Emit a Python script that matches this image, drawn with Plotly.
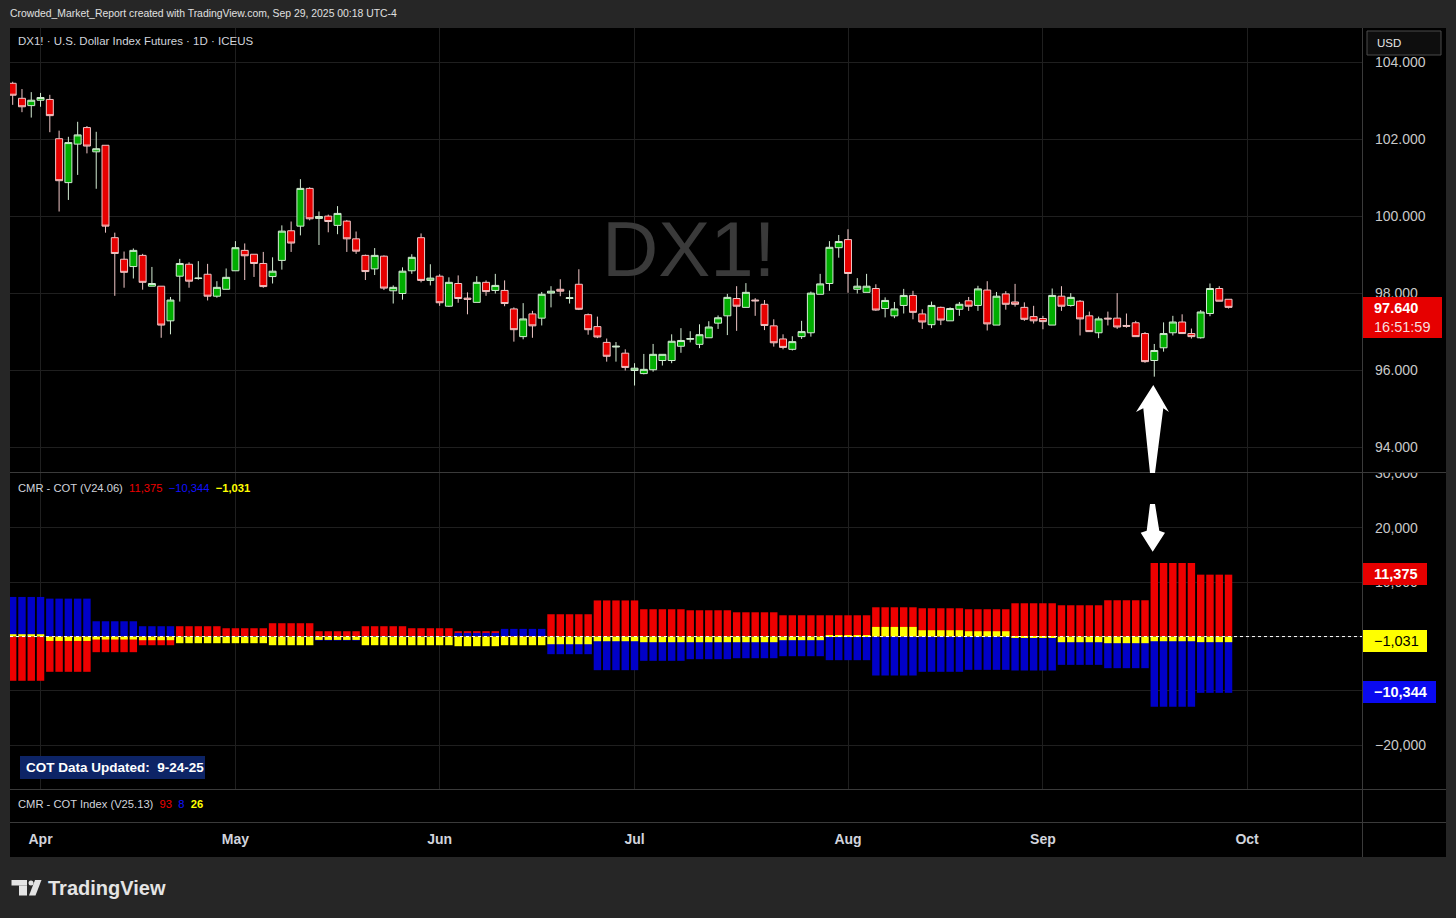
import bisect
import pandas as pd
import plotly.graph_objects as go

W, H = 1456, 918
FONT = "Liberation Sans, Arial, sans-serif"

# ---------------- data ----------------
dates = [d.strftime("%Y-%m-%d") for d in pd.bdate_range("2025-03-27", "2025-09-29")
         if d.strftime("%Y-%m-%d") != "2025-04-18"]

open_ = [103.46, 103.07, 102.88, 103.02, 103.04, 102.02, 100.88, 101.88, 102.31, 101.68,
         101.85, 99.45, 98.89, 98.70, 98.99, 98.19, 98.19, 97.29, 98.45, 98.76,
         98.39, 98.50, 97.93, 98.11, 98.59, 99.12, 99.02, 98.78, 98.44, 98.86,
         99.63, 99.75, 100.73, 99.95, 100.01, 99.77, 99.88, 99.42, 98.99, 98.64,
         98.97, 98.07, 98.00, 98.59, 99.45, 98.34, 98.45, 97.67, 98.26, 97.88,
         97.77, 98.29, 98.08, 98.08, 97.60, 96.88, 97.47, 97.36, 98.01, 98.11,
         97.87, 98.24, 97.45, 97.14, 96.73, 96.61, 96.45, 96.00, 95.92, 96.02,
         96.26, 96.26, 96.63, 96.81, 96.68, 96.85, 97.23, 97.42, 97.87, 97.64,
         97.83, 97.72, 97.16, 96.82, 96.55, 96.88, 96.98, 97.98, 98.26, 99.19,
         99.40, 98.11, 98.03, 98.13, 97.61, 97.42, 97.69, 97.95, 97.47, 97.19,
         97.64, 97.29, 97.59, 97.81, 97.69, 98.09, 97.18, 97.99, 97.78, 97.64,
         97.40, 97.35, 97.18, 97.93, 97.69, 97.80, 97.42, 96.98, 97.36, 97.36,
         97.17, 97.24, 96.96, 96.26, 96.59, 96.98, 97.26, 96.96, 96.85, 97.48,
         98.13, 97.85]
high = [103.50, 103.31, 103.23, 103.21, 103.16, 102.23, 102.07, 102.46, 102.35, 102.20,
        101.85, 99.58, 99.09, 99.17, 99.03, 98.69, 98.19, 97.91, 98.90, 98.81,
        98.84, 98.77, 98.32, 98.65, 99.36, 99.30, 99.02, 99.08, 98.94, 99.77,
        99.87, 100.97, 100.76, 100.13, 100.05, 100.27, 99.91, 99.61, 99.01, 99.18,
        98.99, 98.21, 98.68, 99.02, 99.56, 98.76, 98.50, 98.42, 98.47, 98.03,
        98.45, 98.34, 98.51, 98.34, 97.64, 97.75, 97.55, 98.04, 98.19, 98.37,
        98.08, 98.63, 97.48, 97.40, 96.83, 96.74, 96.55, 96.19, 96.43, 96.69,
        96.42, 96.94, 97.10, 97.02, 97.20, 97.28, 97.43, 97.99, 98.19, 98.27,
        97.88, 97.83, 97.33, 96.94, 96.89, 97.29, 98.05, 98.51, 99.36, 99.52,
        99.67, 98.40, 98.51, 98.24, 97.90, 97.78, 98.12, 98.07, 97.59, 97.79,
        97.66, 97.64, 97.78, 97.91, 98.20, 98.32, 98.04, 98.06, 98.25, 97.77,
        97.68, 97.42, 98.13, 98.19, 98.01, 97.83, 97.53, 97.40, 97.53, 98.01,
        97.48, 97.29, 97.00, 96.69, 97.25, 97.42, 97.46, 97.09, 97.57, 98.26,
        98.19, 97.85]
low = [102.90, 102.71, 102.57, 102.85, 102.19, 100.13, 100.43, 101.08, 101.64, 100.72,
       99.58, 97.94, 98.15, 98.39, 98.10, 98.19, 96.85, 96.94, 97.79, 98.15,
       98.36, 97.82, 97.89, 98.11, 98.59, 98.35, 98.43, 98.15, 98.26, 98.62,
       99.08, 99.51, 99.90, 99.26, 99.59, 99.54, 99.08, 99.03, 98.35, 98.48,
       98.09, 97.74, 97.84, 98.51, 98.29, 98.21, 97.68, 97.65, 97.76, 97.46,
       97.77, 97.94, 98.00, 97.67, 96.75, 96.81, 96.85, 97.17, 97.64, 97.93,
       97.74, 97.57, 96.93, 96.84, 96.23, 96.23, 96.00, 95.61, 95.90, 95.97,
       96.13, 96.19, 96.46, 96.73, 96.58, 96.85, 97.08, 96.92, 97.03, 97.64,
       97.42, 97.05, 96.62, 96.55, 96.52, 96.82, 96.88, 97.98, 98.07, 98.93,
       98.02, 98.00, 98.03, 97.55, 97.38, 97.36, 97.48, 97.33, 97.08, 97.10,
       97.18, 97.29, 97.42, 97.55, 97.55, 97.04, 97.18, 97.58, 97.66, 97.29,
       97.22, 97.07, 97.18, 97.55, 97.66, 96.91, 97.01, 96.84, 97.17, 97.08,
       97.11, 96.88, 96.20, 95.84, 96.49, 96.91, 96.96, 96.83, 96.83, 97.41,
       97.80, 97.61]
close = [103.15, 102.85, 103.02, 103.09, 102.62, 100.93, 101.92, 102.12, 101.83, 101.76,
         99.75, 99.04, 98.55, 99.12, 98.29, 98.26, 97.18, 97.83, 98.78, 98.32,
         98.40, 97.93, 98.16, 98.42, 99.19, 98.98, 98.78, 98.18, 98.58, 99.62,
         99.31, 100.73, 99.94, 100.00, 99.87, 100.08, 99.42, 99.10, 98.57, 98.99,
         98.14, 98.16, 98.58, 98.94, 98.34, 98.40, 97.76, 98.29, 97.87, 97.85,
         98.29, 98.05, 98.21, 97.74, 97.06, 97.34, 97.16, 97.98, 98.06, 98.06,
         97.89, 97.59, 97.06, 96.87, 96.37, 96.63, 96.08, 96.06, 96.03, 96.42,
         96.42, 96.76, 96.78, 96.83, 96.93, 97.13, 97.37, 97.90, 97.67, 98.03,
         97.81, 97.17, 96.72, 96.60, 96.75, 97.01, 98.01, 98.25, 99.20, 99.35,
         98.52, 98.19, 98.19, 97.57, 97.82, 97.60, 97.95, 97.51, 97.26, 97.69,
         97.31, 97.61, 97.72, 97.67, 98.12, 97.21, 97.93, 97.72, 97.72, 97.33,
         97.29, 97.27, 97.95, 97.67, 97.90, 97.34, 97.01, 97.34, 97.34, 97.13,
         97.15, 96.88, 96.23, 96.52, 96.96, 97.26, 96.96, 96.88, 97.52, 98.13,
         97.80, 97.64]

# COT net positions (weekly, plotted from the Wednesday of each week)
week_start = ["2025-03-26", "2025-04-02", "2025-04-09", "2025-04-16", "2025-04-23",
              "2025-04-30", "2025-05-07", "2025-05-14", "2025-05-21", "2025-05-28",
              "2025-06-04", "2025-06-11", "2025-06-18", "2025-06-25", "2025-07-02",
              "2025-07-09", "2025-07-16", "2025-07-23", "2025-07-30", "2025-08-06",
              "2025-08-13", "2025-08-20", "2025-08-27", "2025-09-03", "2025-09-10",
              "2025-09-17", "2025-09-24"]
cot_red = [-8130, -6480, -2870, -1590, 1900, 1530, 2450, 980, 1900, 1530,
           980, 200, 4100, 6640, 5020, 4830, 4460, 3910, 3910, 5380,
           5200, 5020, 6120, 5750, 6670, 13520, 11375]
cot_blue = [7280, 6970, 2810, 1900, -680, -310, -860, -730, -300, -100,
            670, 1410, -3240, -6180, -4460, -4160, -3980, -3610, -4340, -7160,
            -6480, -6120, -6240, -5200, -5810, -12900, -10344]
cot_yellow = [430, -800, -550, -670, -1220, -1220, -1590, -620, -1590, -1590,
              -1770, -1590, -1410, -860, -1040, -1040, -1040, -670, 240, 1770,
              1160, 980, -240, -1040, -1220, -860, -1031]
cot_index = [93, 8, 26]

price_ticks = [94, 96, 98, 100, 102, 104]
price_tick_text = ["94.000", "96.000", "98.000", "100.000", "102.000", "104.000"]
cot_ticks = [-20000, -10000, 0, 10000, 20000, 30000]
cot_tick_text = ["\u221220,000", "\u221210,000", "0", "10,000", "20,000", "30,000"]
month_labels = ["Apr", "May", "Jun", "Jul", "Aug", "Sep", "Oct"]

# ---------------- derived structure ----------------
xi = list(range(len(dates)))
week_of_day = [bisect.bisect_right(week_start, d) - 1 for d in dates]
red_d = [cot_red[w] for w in week_of_day]
blue_d = [cot_blue[w] for w in week_of_day]
yellow_d = [cot_yellow[w] for w in week_of_day]

month_pos = []
seen = set()
for i, d in enumerate(dates):
    m = d[:7]
    if m not in seen:
        seen.add(m)
        if i > 0:
            month_pos.append(i)
month_pos.append(len(dates) + 1)  # Oct 1

GRID = "#1f1f1f"
SEP = "#3a3a3a"
AX_FONT = dict(size=14, color="#c9c9c9", family=FONT)
RED, BLUE, YEL = "#ee0000", "#0000c8", "#ffff00"

# the page renders the paper area 8px below the window top, 910px tall
TOP, PH = 8, 910


def fx(x):
    return x / W


def fy(y):
    return 1 - (y - TOP) / PH


def neg(v):
    return ("\u2212" if v < 0 else "") + f"{abs(v):,}"


fig = go.Figure()
fig.add_trace(go.Candlestick(
    x=xi, open=open_, high=high, low=low, close=close, xaxis="x", yaxis="y",
    increasing=dict(fillcolor="#00ad00", line=dict(color="#d3ecd3", width=1)),
    decreasing=dict(fillcolor="#e60000", line=dict(color="#f0c6c6", width=1)),
    whiskerwidth=0, hoverinfo="skip", showlegend=False))
for vals, col in [(red_d, RED), (blue_d, BLUE), (yellow_d, YEL)]:
    fig.add_trace(go.Bar(x=xi, y=vals, xaxis="x2", yaxis="y2", width=0.8,
                         marker=dict(color=col, line=dict(width=0)),
                         hoverinfo="skip", showlegend=False))
fig.add_trace(go.Scatter(x=[0], y=[0.5], xaxis="x3", yaxis="y3", mode="markers",
                         marker=dict(opacity=0), hoverinfo="skip", showlegend=False))

xdom = [fx(10), fx(1362)]
xr = [-0.29, 145.38]

shapes = []


def rect(x0, y0, x1, y1, fill, line=None, lw=0, layer="above"):
    shapes.append(dict(type="rect", xref="paper", yref="paper", x0=fx(x0), x1=fx(x1),
                       y0=fy(y1), y1=fy(y0), fillcolor=fill, layer=layer,
                       line=dict(width=lw, color=line or fill)))


def hline(x0, x1, y, color=SEP, w=1):
    shapes.append(dict(type="line", xref="paper", yref="paper", x0=fx(x0), x1=fx(x1),
                       y0=fy(y), y1=fy(y), line=dict(color=color, width=w), layer="above"))


def vline(x, y0, y1, color=SEP, w=1):
    shapes.append(dict(type="line", xref="paper", yref="paper", x0=fx(x), x1=fx(x),
                       y0=fy(y0), y1=fy(y1), line=dict(color=color, width=w), layer="above"))


def poly(pts, fill):
    path = "M " + " L ".join(f"{fx(x):.5f},{fy(y):.5f}" for x, y in pts) + " Z"
    shapes.append(dict(type="path", xref="paper", yref="paper", path=path,
                       fillcolor=fill, line=dict(width=0), layer="above"))


# black chart frame
rect(10, 28, 1446, 857, "#000000", layer="below")
# cover half of the top labels (as clipped in the reference)
rect(1363, 28, 1446, 57, "#000000")
rect(1363, 460, 1446, 472.5, "#000000")
# pane separators
hline(10, 1446, 472.5)
hline(10, 1446, 789.5)
hline(10, 1446, 822.5)
vline(1362.5, 28, 857)
# zero line in COT pane
shapes.append(dict(type="line", xref="paper", yref="y2", x0=fx(10), x1=fx(1362), y0=0, y1=0,
                   line=dict(color="#ffffff", width=1, dash="dot"), layer="above"))
# axis value boxes
rect(1367, 31, 1441, 55, "#0e0e0e", line="#4a4a4a", lw=1)
rect(1363, 297, 1442, 338, "#e60000")
rect(1363, 563, 1427, 585, "#e60000")
rect(1363, 630, 1427, 652, "#ffff00")
rect(1363, 681, 1436, 703, "#0a0af0")
# COT data updated box
rect(20, 756, 205, 779, "#0d2466")
# arrows
poly([(1153.3, 385), (1169, 412), (1163.3, 408.3), (1155, 473), (1150, 473),
      (1143.3, 408.3), (1136, 412)], "#ffffff")
poly([(1150, 504), (1155, 504), (1159.3, 530.7), (1165, 532.7), (1152.7, 551.7),
      (1140.7, 532.7), (1146.7, 530.7)], "#ffffff")
# TradingView logo mark
LOGO = "#e4e4e4"
rect(11.5, 880, 27, 885.5, LOGO)
rect(19, 885.5, 27, 895.5, LOGO)
shapes.append(dict(type="circle", xref="paper", yref="paper", x0=fx(28.5), x1=fx(33.5),
                   y0=fy(885.5), y1=fy(880.5), fillcolor=LOGO, line=dict(width=0), layer="above"))
poly([(35, 880), (41.5, 880), (35.5, 895.5), (29, 895.5)], LOGO)

annotations = []


def ann(x, y, text, size=12, color="#d1d4dc", xanchor="left", weight="normal", family=FONT):
    annotations.append(dict(xref="paper", yref="paper", x=fx(x), y=fy(y), text=text,
                            showarrow=False, xanchor=xanchor, yanchor="middle",
                            borderpad=0,
                            font=dict(size=size, color=color, family=family, weight=weight)))


def span(t, c, bold=False):
    s = f"<span style='color:{c}'>{t}</span>"
    return f"<b>{s}</b>" if bold else s


SP = "&nbsp;&nbsp;"
ann(9, 14, "Crowded_Market_Report created with TradingView.com, Sep 29, 2025 00:18 UTC-4",
    size=10.4, color="#e0e0e0")
ann(17, 41, "DX1! \u00b7 U.S. Dollar Index Futures \u00b7 1D \u00b7 ICEUS", size=11.5)
ann(688, 249, "DX1!", size=78, color="#3a3a3a", xanchor="center")
ann(17, 488, "CMR - COT (V24.06)" + SP + span(neg(cot_red[-1]), RED) + SP
    + span(neg(cot_blue[-1]), "#1010ff") + SP + span(neg(cot_yellow[-1]), YEL, True), size=11.2)
ann(17, 804, "CMR - COT Index (V25.13)" + SP + span(cot_index[0], RED) + SP
    + span(cot_index[1], "#1010ff") + SP + span(cot_index[2], YEL, True), size=11.2)
ann(25, 767, "COT Data Updated:&nbsp;&nbsp;9-24-25", size=13.5, color="#ffffff", weight="bold")
ann(1376, 43, "USD", size=11.5, color="#e6e6e6")
ann(1373, 308, f"{close[-1]:.3f}", size=14.5, color="#ffffff", weight="bold")
ann(1373, 327, "16:51:59", size=14.5, color="#f5dede")
ann(1373, 574, neg(cot_red[-1]), size=14.5, color="#ffffff", weight="bold")
ann(1373, 641, neg(cot_yellow[-1]), size=14.5, color="#000000")
ann(1373, 692, neg(cot_blue[-1]), size=14.5, color="#ffffff", weight="bold")
ann(47, 888, "TradingView", size=20, color=LOGO, weight="bold")

fig.update_layout(
    width=W, height=H, margin=dict(l=0, r=0, t=0, b=0),
    paper_bgcolor="#262626", plot_bgcolor="#000000",
    showlegend=False, barmode="overlay", boxgap=0.25, boxgroupgap=0, hovermode=False,
    xaxis=dict(domain=xdom, range=xr, anchor="y", showticklabels=False, tickvals=month_pos,
               showgrid=True, gridcolor=GRID, zeroline=False, ticks="",
               rangeslider=dict(visible=False)),
    xaxis2=dict(domain=xdom, range=xr, matches="x", anchor="y2", showticklabels=False,
                tickvals=month_pos, showgrid=True, gridcolor=GRID, zeroline=False, ticks=""),
    xaxis3=dict(domain=xdom, range=xr, matches="x", anchor="y3", showticklabels=True,
                tickvals=month_pos, ticktext=month_labels, showgrid=False, zeroline=False,
                ticks="", ticklabelstandoff=7,
                tickfont=dict(size=14, color="#d1d4dc", family=FONT, weight="bold")),
    yaxis=dict(domain=[fy(472), fy(28)], anchor="x", side="right", range=[93.364, 104.896],
               tickvals=price_ticks, ticktext=price_tick_text, showgrid=True, gridcolor=GRID,
               zeroline=False, ticks="", ticklabelstandoff=12, tickfont=AX_FONT),
    yaxis2=dict(domain=[fy(789), fy(473)], anchor="x2", side="right", range=[-28018, 30060],
                tickvals=cot_ticks, ticktext=cot_tick_text, showgrid=True, gridcolor=GRID,
                zeroline=False, ticks="", ticklabelstandoff=12, tickfont=AX_FONT),
    yaxis3=dict(domain=[fy(822), fy(790)], anchor="x3", range=[0, 1], showticklabels=False,
                showgrid=False, zeroline=False, ticks=""),
    shapes=shapes, annotations=annotations,
)

fig.write_html("out.html", config={"displayModeBar": False, "responsive": False})

# pin the figure to the window's top-left corner (no page margin / offsets)
with open("out.html", "r", encoding="utf-8") as f:
    html = f.read()
css = ("<style>html,body{margin:0;padding:0;overflow:hidden;background:#262626;}"
       ".plotly-graph-div{position:absolute !important;top:0;left:0;}</style>")
html = html.replace("<head>", "<head>" + css, 1)
with open("out.html", "w", encoding="utf-8") as f:
    f.write(html)
